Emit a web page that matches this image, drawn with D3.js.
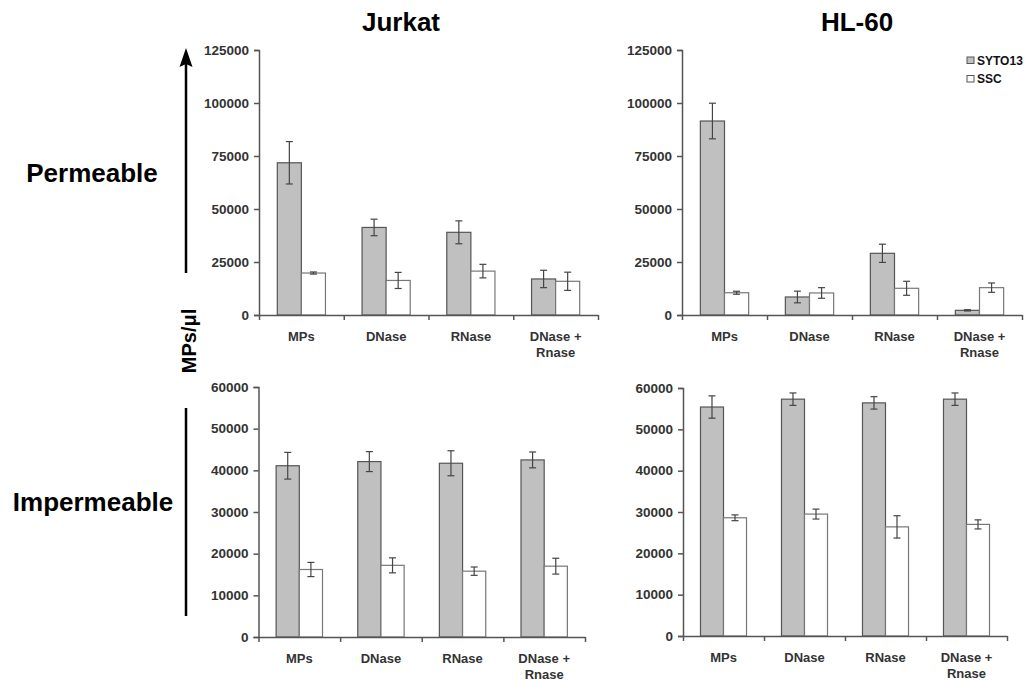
<!DOCTYPE html>
<html>
<head>
<meta charset="utf-8">
<script src="https://cdn.jsdelivr.net/npm/d3@7"></script>
<style>
  body { margin: 0; background: #fff; }
  svg { display: block; font-family: Arial, "Liberation Sans", sans-serif; }
</style>
</head>
<body>
<svg id="chart" width="1032" height="681"></svg>
<script>
// data
var categories = ["MPs", "DNase", "RNase", "DNase + Rnase"];
var xLabels = ["MPs", "DNase", "RNase", "DNase +\nRnase"];
var series = ["SYTO13", "SSC"];

var jurkatPermSyto = [71800, 41300, 39000, 17000];
var jurkatPermSytoErr = [10000, 3900, 5400, 4100];
var jurkatPermSsc = [19800, 16300, 20700, 15900];
var jurkatPermSscErr = [500, 3800, 3200, 4300];

var hl60PermSyto = [91500, 8500, 29100, 2200];
var hl60PermSytoErr = [8400, 2750, 4300, 300];
var hl60PermSsc = [10500, 10400, 12600, 12900];
var hl60PermSscErr = [700, 2500, 3300, 2200];

var jurkatImpSyto = [41100, 42100, 41700, 42500];
var jurkatImpSytoErr = [3200, 2400, 3000, 1900];
var jurkatImpSsc = [16200, 17200, 15800, 17000];
var jurkatImpSscErr = [1700, 1800, 1000, 1900];

var hl60ImpSyto = [55400, 57300, 56400, 57300];
var hl60ImpSytoErr = [2700, 1500, 1500, 1500];
var hl60ImpSsc = [28600, 29500, 26400, 27000];
var hl60ImpSscErr = [700, 1200, 2700, 1100];

var permTicks = [0, 25000, 50000, 75000, 100000, 125000];
var impTicks = [0, 10000, 20000, 30000, 40000, 50000, 60000];

var palette = {
  syto: "#c0c0c0",
  ssc: "#ffffff",
  barStroke: "#555555",
  axis: "#555555",
  tickText: "#333333",
  err: "#444444",
  text: "#000000"
};

var svg = d3.select("#chart");

function rows(syto, sytoErr, ssc, sscErr) {
  return categories.map(function(c, i) {
    return { cat: c, vals: [
      { s: series[0], v: syto[i], e: sytoErr[i] },
      { s: series[1], v: ssc[i], e: sscErr[i] }
    ]};
  });
}

function panel(opts) {
  var g = svg.append("g");
  var x = d3.scaleBand().domain(categories).range([opts.x0, opts.x1]);
  var xs = d3.scaleBand().domain(series).range([0, x.bandwidth()]).paddingOuter(0.76);
  var y = d3.scaleLinear().domain([0, opts.max]).range([opts.yb, opts.yt]);
  var idx = d3.scaleLinear().domain([0, categories.length]).range([opts.x0, opts.x1]);

  var grp = g.selectAll("g.cat").data(opts.data).enter().append("g")
      .attr("class", "cat")
      .attr("transform", function(d) { return "translate(" + x(d.cat) + ",0)"; });

  grp.selectAll("rect").data(function(d) { return d.vals; }).enter().append("rect")
      .attr("x", function(d) { return xs(d.s); })
      .attr("y", function(d) { return y(d.v); })
      .attr("width", xs.bandwidth())
      .attr("height", function(d) { return y(0) - y(d.v); })
      .attr("fill", function(d) { return d.s == "SYTO13" ? palette.syto : palette.ssc; })
      .attr("stroke", function(d) { return d.s == "SYTO13" ? palette.barStroke : "#777"; })
      .attr("stroke-width", 1.2);

  // error bars
  var eb = grp.selectAll("g.err").data(function(d) { return d.vals; }).enter().append("g")
      .attr("class", "err")
      .attr("stroke", palette.err)
      .attr("stroke-width", 1.2);
  eb.append("line")
      .attr("x1", function(d) { return xs(d.s) + xs.bandwidth() / 2; })
      .attr("x2", function(d) { return xs(d.s) + xs.bandwidth() / 2; })
      .attr("y1", function(d) { return y(d.v + d.e); })
      .attr("y2", function(d) { return y(d.v - d.e); });
  [1, -1].forEach(function(sgn) {
    eb.append("line")
        .attr("x1", function(d) { return xs(d.s) + xs.bandwidth() / 2 - 3.5; })
        .attr("x2", function(d) { return xs(d.s) + xs.bandwidth() / 2 + 3.5; })
        .attr("y1", function(d) { return y(d.v + sgn * d.e); })
        .attr("y2", function(d) { return y(d.v + sgn * d.e); });
  });

  // y axis
  var ya = g.append("g")
      .attr("transform", "translate(" + opts.x0 + ",0)")
      .call(d3.axisLeft(y).tickValues(opts.ticks).tickFormat(d3.format("d")).tickSize(5).tickPadding(5));
  ya.select(".domain").attr("stroke", palette.axis).attr("stroke-width", 1.5);
  ya.selectAll(".tick line").attr("stroke", palette.axis).attr("stroke-width", 1.5);
  ya.selectAll(".tick text")
      .attr("fill", palette.tickText)
      .attr("font-size", "13.5px")
      .attr("font-weight", "bold")
      .attr("font-family", "Arial, 'Liberation Sans', sans-serif");

  // x axis, ticks between categories
  var xa = g.append("g")
      .attr("transform", "translate(0," + opts.yb + ")")
      .call(d3.axisBottom(idx).tickValues(d3.range(categories.length + 1)).tickFormat("").tickSize(5).tickSizeOuter(0));
  xa.select(".domain").attr("stroke", palette.axis).attr("stroke-width", 1.5);
  xa.selectAll(".tick line").attr("stroke", palette.axis).attr("stroke-width", 1.5);

  var lab = g.selectAll("text.xl").data(xLabels).enter().append("text")
      .attr("class", "xl")
      .attr("text-anchor", "middle")
      .attr("font-size", "13px")
      .attr("font-weight", "bold")
      .attr("fill", palette.tickText)
      .attr("transform", function(d, i) {
        return "translate(" + (x(categories[i]) + x.bandwidth() / 2) + "," + (opts.yb + 26) + ")";
      });
  lab.selectAll("tspan").data(function(d) { return d.split("\n"); }).enter().append("tspan")
      .attr("x", 0)
      .attr("dy", function(d, i) { return i == 0 ? 0 : 16; })
      .text(function(d) { return d; });
}

panel({ x0: 259, x1: 598, yt: 50, yb: 315, max: 125000, ticks: permTicks,
        data: rows(jurkatPermSyto, jurkatPermSytoErr, jurkatPermSsc, jurkatPermSscErr) });
panel({ x0: 682, x1: 1022, yt: 50, yb: 315, max: 125000, ticks: permTicks,
        data: rows(hl60PermSyto, hl60PermSytoErr, hl60PermSsc, hl60PermSscErr) });
panel({ x0: 258.5, x1: 585, yt: 387, yb: 637, max: 60000, ticks: impTicks,
        data: rows(jurkatImpSyto, jurkatImpSytoErr, jurkatImpSsc, jurkatImpSscErr) });
panel({ x0: 683, x1: 1007, yt: 388, yb: 636, max: 60000, ticks: impTicks,
        data: rows(hl60ImpSyto, hl60ImpSytoErr, hl60ImpSsc, hl60ImpSscErr) });

// titles
svg.append("text").attr("x", 401).attr("y", 31).attr("text-anchor", "middle")
    .attr("font-size", "26px").attr("font-weight", "bold").attr("fill", palette.text).text("Jurkat");
svg.append("text").attr("x", 857).attr("y", 31).attr("text-anchor", "middle")
    .attr("font-size", "26px").attr("font-weight", "bold").attr("fill", palette.text).text("HL-60");

// row labels
svg.append("text").attr("x", 92).attr("y", 182).attr("text-anchor", "middle")
    .attr("font-size", "26px").attr("font-weight", "bold").attr("fill", palette.text).text("Permeable");
svg.append("text").attr("x", 93).attr("y", 511).attr("text-anchor", "middle")
    .attr("font-size", "26px").attr("font-weight", "bold").attr("fill", palette.text).text("Impermeable");

// arrow and bar on the left
svg.append("line").attr("x1", 186).attr("x2", 186).attr("y1", 273).attr("y2", 62)
    .attr("stroke", "#000").attr("stroke-width", 2.5);
svg.append("path").attr("d", "M186,48 L179.5,67 L186,64 L192.5,67 Z").attr("fill", "#000");
svg.append("line").attr("x1", 186).attr("x2", 186).attr("y1", 408).attr("y2", 616)
    .attr("stroke", "#000").attr("stroke-width", 2.5);

svg.append("text")
    .attr("transform", "translate(196,341) rotate(-90)")
    .attr("text-anchor", "middle")
    .attr("font-size", "20px").attr("font-weight", "bold").attr("fill", palette.text)
    .text("MPs/μl");

// legend
var leg = svg.append("g").attr("transform", "translate(967,57)");
leg.selectAll("rect").data(series).enter().append("rect")
    .attr("x", 0).attr("y", function(d, i) { return i * 18.5; })
    .attr("width", 7).attr("height", 6.5)
    .attr("fill", function(d) { return d == "SYTO13" ? palette.syto : palette.ssc; })
    .attr("stroke", "#555").attr("stroke-width", 1);
leg.selectAll("text").data(series).enter().append("text")
    .attr("x", 10).attr("y", function(d, i) { return i * 18.5 + 7.5; })
    .attr("font-size", "12px").attr("font-weight", "bold").attr("fill", "#111")
    .text(function(d) { return d; });
</script>
</body>
</html>
